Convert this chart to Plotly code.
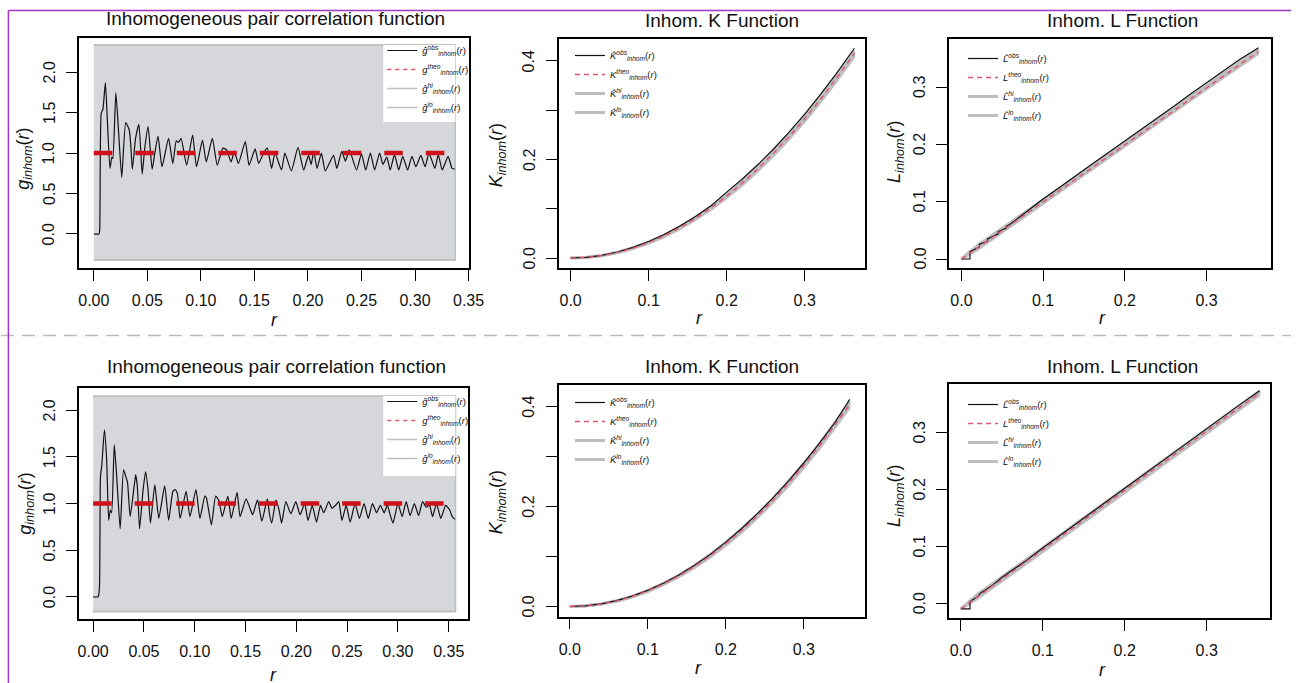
import plotly.graph_objects as go

W, H = 1306, 683

# ------------------------------------------------------------------ data
# --- top row : pair correlation function (observed, read from picture)
g1_r = [0, 0.0048, 0.0055, 0.0069, 0.0085, 0.0108, 0.0125, 0.0151, 0.0169, 0.0178, 0.0206, 0.0232,
        0.0261, 0.0298, 0.0330, 0.0345, 0.0360, 0.0390, 0.0421, 0.0452, 0.0475, 0.0507, 0.0545,
        0.0570, 0.0600, 0.0637, 0.0698, 0.0738, 0.0770, 0.0790, 0.0815, 0.0867, 0.0923, 0.0959,
        0.1015, 0.1050, 0.1107, 0.1153, 0.1205, 0.1240, 0.1282, 0.1313, 0.1350, 0.1415, 0.1450,
        0.1507, 0.1540, 0.1585, 0.1620, 0.1661, 0.1692, 0.1753, 0.1784, 0.1845, 0.1907, 0.1960,
        0.2005, 0.2030, 0.2055, 0.2085, 0.2125, 0.2162, 0.2239, 0.2270, 0.2316, 0.2350, 0.2386,
        0.2454, 0.2500, 0.2540, 0.2583, 0.2623, 0.2669, 0.2700, 0.2737, 0.2768, 0.2808, 0.2848,
        0.2885, 0.2931, 0.2971, 0.3008, 0.3054, 0.3094, 0.3130, 0.3186, 0.3217, 0.3254, 0.3309,
        0.3346, 0.3370]
g1_obs = [0, 0, 0.05, 1.49, 1.54, 1.87, 1.45, 0.81, 0.95, 0.93, 1.745, 1.25,
          0.70, 1.374, 1.29, 1.10, 0.80, 1.18, 1.354, 0.74, 1.05, 1.325, 0.80,
          1.00, 1.21, 0.83, 1.18, 0.87, 1.15, 1.13, 1.18, 0.85, 1.22, 0.83,
          1.16, 0.89, 1.18, 0.85, 1.06, 1.04, 0.89, 1.02, 0.87, 1.14, 0.85,
          1.05, 0.87, 1.00, 1.06, 0.81, 1.00, 0.79, 1.00, 0.78, 1.07, 0.79,
          0.97, 0.86, 1.02, 0.81, 1.00, 0.78, 0.97, 0.81, 1.02, 0.90, 1.04,
          0.79, 0.99, 0.79, 1.00, 0.79, 1.00, 0.86, 0.95, 0.79, 0.98, 0.79,
          0.96, 0.79, 0.96, 0.83, 0.97, 0.83, 1.00, 0.81, 0.98, 0.79, 0.96,
          0.81, 0.80]
g1_env_r = [0, 0.3376]
g1_theo = [1.0, 1.0]
g1_hi = [2.333, 2.333]
g1_lo = [-0.321, -0.321]

# --- bottom row : pair correlation function
g2_r = [0, 0.0049, 0.0062, 0.0072, 0.0085, 0.0111, 0.0133, 0.0153, 0.0169, 0.0182, 0.0208, 0.0234,
        0.0266, 0.0299, 0.0321, 0.0338, 0.0364, 0.0402, 0.0419, 0.0435, 0.0457, 0.0490, 0.0516,
        0.0540, 0.0564, 0.0607, 0.0646, 0.0704, 0.0743, 0.0785, 0.0808, 0.0830, 0.0856, 0.0915,
        0.0953, 0.1012, 0.1051, 0.1099, 0.1115, 0.1164, 0.1206, 0.1238, 0.1271, 0.1326, 0.1359,
        0.1417, 0.1446, 0.1505, 0.1537, 0.1570, 0.1618, 0.1660, 0.1715, 0.1735, 0.1758, 0.1800,
        0.1830, 0.1855, 0.1897, 0.1946, 0.1995, 0.2037, 0.2082, 0.2115, 0.2157, 0.2199, 0.2238,
        0.2270, 0.2319, 0.2350, 0.2385, 0.2417, 0.2449, 0.2491, 0.2530, 0.2578, 0.2621, 0.2667,
        0.2708, 0.2750, 0.2790, 0.2828, 0.2865, 0.2895, 0.2951, 0.3000, 0.3042, 0.3081, 0.3120,
        0.3162, 0.3204, 0.3243, 0.3280, 0.3311, 0.3341, 0.3380, 0.3422, 0.3470, 0.3510, 0.3534,
        0.3561]
g2_obs = [0, 0, 0.10, 1.29, 1.41, 1.79, 1.47, 0.82, 0.93, 0.90, 1.63, 1.25,
          0.73, 1.36, 1.29, 1.23, 0.86, 1.17, 1.31, 1.18, 0.73, 1.13, 1.34,
          1.15, 0.79, 1.20, 0.84, 1.19, 0.82, 1.13, 1.15, 1.10, 0.84, 1.13,
          0.86, 1.15, 0.84, 1.08, 1.06, 0.77, 1.08, 1.03, 0.86, 1.08, 0.84,
          1.12, 0.86, 1.05, 0.97, 0.88, 1.04, 0.81, 1.05, 0.89, 0.79, 1.04,
          0.93, 0.79, 1.02, 0.89, 1.02, 0.88, 1.00, 0.82, 0.98, 0.80, 0.98,
          0.90, 1.02, 0.95, 0.98, 1.02, 0.82, 0.98, 0.80, 1.00, 0.84, 1.00,
          0.84, 1.00, 0.90, 0.98, 0.90, 0.98, 0.79, 1.00, 0.86, 1.02, 0.87,
          1.00, 0.87, 1.02, 0.96, 0.98, 0.86, 1.00, 0.84, 0.98, 0.93, 0.86,
          0.83]
g2_env_r = [0, 0.3567]
g2_theo = [1.0, 1.0]
g2_hi = [2.15, 2.15]
g2_lo = [-0.157, -0.157]

# --- K functions
k_r = [0, 0.02, 0.04, 0.06, 0.08, 0.10, 0.12, 0.14, 0.16, 0.18, 0.20, 0.22, 0.24, 0.26,
       0.28, 0.30, 0.32, 0.34]
k1_r = k_r + [0.3637]
k1_theo = [0, 0.0013, 0.0050, 0.0113, 0.0201, 0.0314, 0.0452, 0.0616, 0.0804, 0.1018, 0.1257,
           0.1521, 0.1810, 0.2124, 0.2463, 0.2827, 0.3217, 0.3632, 0.4156]
k1_obs = [0, 0.0014, 0.0055, 0.0122, 0.0215, 0.0334, 0.0478, 0.0648, 0.0842, 0.1062, 0.1337,
          0.1605, 0.1897, 0.2213, 0.2555, 0.2923, 0.3317, 0.3732, 0.4258]
k1_hi = [0, 0.0014, 0.0053, 0.0118, 0.0208, 0.0324, 0.0465, 0.0632, 0.0823, 0.1040, 0.1283,
         0.1550, 0.1842, 0.2159, 0.2500, 0.2867, 0.3259, 0.3677, 0.4204]
k1_lo = [0, 0.0011, 0.0046, 0.0106, 0.0191, 0.0301, 0.0436, 0.0596, 0.0781, 0.0991, 0.1226,
         0.1487, 0.1773, 0.2084, 0.2420, 0.2782, 0.3169, 0.3581, 0.4100]

k2_r = k_r + [0.3590]
k2_theo = [0, 0.0013, 0.0050, 0.0113, 0.0201, 0.0314, 0.0452, 0.0616, 0.0804, 0.1018, 0.1257,
           0.1521, 0.1810, 0.2124, 0.2463, 0.2827, 0.3217, 0.3632, 0.4049]
k2_obs = [0, 0.0013, 0.0052, 0.0117, 0.0208, 0.0324, 0.0465, 0.0632, 0.0825, 0.1043, 0.1290,
          0.1558, 0.1850, 0.2166, 0.2508, 0.2875, 0.3267, 0.3686, 0.4150]
k2_hi = [0, 0.0014, 0.0053, 0.0118, 0.0208, 0.0324, 0.0465, 0.0632, 0.0823, 0.1040, 0.1283,
         0.1550, 0.1842, 0.2159, 0.2500, 0.2867, 0.3259, 0.3677, 0.4095]
k2_lo = [0, 0.0011, 0.0046, 0.0106, 0.0191, 0.0301, 0.0436, 0.0596, 0.0781, 0.0991, 0.1226,
         0.1487, 0.1773, 0.2084, 0.2420, 0.2782, 0.3169, 0.3581, 0.3995]

# --- L functions
l1_r = [0, 0.0105, 0.0105, 0.015, 0.020, 0.022, 0.022, 0.030, 0.032, 0.032, 0.040, 0.045, 0.045,
        0.050, 0.055, 0.055, 0.060, 0.070, 0.080, 0.090, 0.10, 0.12, 0.14, 0.16, 0.18, 0.20,
        0.22, 0.24, 0.26, 0.28, 0.30, 0.32, 0.34, 0.3635]
l1_obs = [0, 0, 0.0128, 0.016, 0.019, 0.021, 0.026, 0.029, 0.031, 0.035, 0.041, 0.044, 0.048,
          0.051, 0.054, 0.057, 0.061, 0.072, 0.083, 0.094, 0.105, 0.125, 0.146, 0.166, 0.186,
          0.206, 0.226, 0.247, 0.267, 0.288, 0.308, 0.328, 0.348, 0.369]
l1_env_r = [0, 0.02, 0.10, 0.20, 0.30, 0.3635]
l1_theo = [0, 0.020, 0.100, 0.200, 0.300, 0.3624]
l1_hi = [0, 0.024, 0.1035, 0.2035, 0.3035, 0.3664]
l1_lo = [0, 0.017, 0.0975, 0.1975, 0.2975, 0.3594]

l2_r = [0, 0.0112, 0.0112, 0.015, 0.020, 0.025, 0.030, 0.040, 0.050, 0.060, 0.080, 0.10, 0.12,
        0.14, 0.16, 0.18, 0.20, 0.22, 0.24, 0.26, 0.28, 0.30, 0.32, 0.34, 0.3646]
l2_obs = [-0.009, -0.009, 0.004, 0.008, 0.012, 0.020, 0.024, 0.034, 0.046, 0.056, 0.076, 0.098,
          0.119, 0.140, 0.161, 0.182, 0.202, 0.223, 0.244, 0.265, 0.286, 0.307, 0.328, 0.349,
          0.3736]
l2_env_r = [0, 0.02, 0.10, 0.20, 0.30, 0.3646]
l2_theo = [-0.009, 0.012, 0.095, 0.199, 0.303, 0.370]
l2_hi = [-0.009, 0.016, 0.0985, 0.2025, 0.3065, 0.3735]
l2_lo = [-0.009, 0.009, 0.0915, 0.1955, 0.2995, 0.3665]

# tick labels
g_xticks = [0, 0.05, 0.10, 0.15, 0.20, 0.25, 0.30, 0.35]
g_xtext = ["0.00", "0.05", "0.10", "0.15", "0.20", "0.25", "0.30", "0.35"]
g_yticks = [0, 0.5, 1.0, 1.5, 2.0]
g_ytext = ["0.0", "0.5", "1.0", "1.5", "2.0"]
kl_xticks = [0, 0.1, 0.2, 0.3]
kl_xtext = ["0.0", "0.1", "0.2", "0.3"]
k_yticks = [0, 0.1, 0.2, 0.3, 0.4]
k_ytext = ["0.0", "", "0.2", "", "0.4"]
l_yticks = [0, 0.1, 0.2, 0.3]
l_ytext = ["0.0", "0.1", "0.2", "0.3"]

# ------------------------------------------------------------------ style
BLACK = "#111111"
THEO = "#DF536B"
THEO_THICK = "#D0101A"
ENV = "#BEBEBE"
SHADE_G = "#D5D7DB"
SHADE_KL = "#C9C9C9"
FONT = "Liberation Sans, Arial, sans-serif"

fig = go.Figure()


def lab(sym, sup, hat=True):
    s = sym + ("\u0302" if hat else "")
    return f"<i>{s}</i><sup><i>{sup}</i></sup><sub><i>inhom</i></sub>(<i>r</i>)"


def add_panel(n, leg, sym, r, obs, env_r, theo, hi, lo, kind):
    xa = "x" if n == 1 else f"x{n}"
    ya = "y" if n == 1 else f"y{n}"
    shade = SHADE_G if kind == "g" else SHADE_KL
    # envelope shading built from hi / lo
    fig.add_trace(go.Scatter(x=list(env_r) + list(env_r)[::-1], y=list(hi) + list(lo)[::-1],
                             fill="toself", fillcolor=shade, mode="lines",
                             line=dict(color=ENV if kind == "g" else shade, width=1.5),
                             xaxis=xa, yaxis=ya, showlegend=False, hoverinfo="skip"))
    if kind == "g":
        fig.add_trace(go.Scatter(x=r, y=obs, mode="lines",
                                 line=dict(color=BLACK, width=1.2, shape="spline", smoothing=0.5),
                                 xaxis=xa, yaxis=ya, name=lab(sym, "obs"), legend=leg, legendrank=1))
        fig.add_trace(go.Scatter(x=env_r, y=theo, mode="lines",
                                 line=dict(color=THEO_THICK, width=4.5, dash="18.5px,23px"),
                                 xaxis=xa, yaxis=ya, showlegend=False))
        # legend proxy for theo (thin dashed as in legend)
        fig.add_trace(go.Scatter(x=[None], y=[None], mode="lines",
                                 line=dict(color=THEO, width=1.3, dash="4px,4px"),
                                 xaxis=xa, yaxis=ya, name=lab(sym, "theo", hat=False), legend=leg,
                                 legendrank=2))
        ew = 1.5
    else:
        ew = 3
    fig.add_trace(go.Scatter(x=env_r, y=hi, mode="lines", line=dict(color=ENV, width=ew),
                             xaxis=xa, yaxis=ya, name=lab(sym, "hi"), legend=leg, legendrank=3))
    fig.add_trace(go.Scatter(x=env_r, y=lo, mode="lines", line=dict(color=ENV, width=ew),
                             xaxis=xa, yaxis=ya, name=lab(sym, "lo"), legend=leg, legendrank=4))
    if kind != "g":
        fig.add_trace(go.Scatter(x=r, y=obs, mode="lines", line=dict(color=BLACK, width=1.2),
                                 xaxis=xa, yaxis=ya, name=lab(sym, "obs"), legend=leg, legendrank=1))
        fig.add_trace(go.Scatter(x=env_r, y=theo, mode="lines",
                                 line=dict(color=THEO, width=1.4, dash="5px,4px"),
                                 xaxis=xa, yaxis=ya, name=lab(sym, "theo", hat=False), legend=leg,
                                 legendrank=2))


add_panel(1, "legend", "g", g1_r, g1_obs, g1_env_r, g1_theo, g1_hi, g1_lo, "g")
add_panel(2, "legend2", "K", k1_r, k1_obs, k1_r, k1_theo, k1_hi, k1_lo, "K")
add_panel(3, "legend3", "L", l1_r, l1_obs, l1_env_r, l1_theo, l1_hi, l1_lo, "L")
add_panel(4, "legend4", "g", g2_r, g2_obs, g2_env_r, g2_theo, g2_hi, g2_lo, "g")
add_panel(5, "legend5", "K", k2_r, k2_obs, k2_r, k2_theo, k2_hi, k2_lo, "K")
add_panel(6, "legend6", "L", l2_r, l2_obs, l2_env_r, l2_theo, l2_hi, l2_lo, "L")

# ------------------------------------------------------------------ axes
# pixel boxes: (left, right, top, bottom)
boxes = {
    1: (79, 474, 38, 268),
    2: (565, 875, 39, 268),
    3: (960, 1285.5, 39, 268),
    4: (79, 473, 388, 619),
    5: (564.5, 875, 384.5, 616.5),
    6: (960, 1285, 383.5, 618),
}
xranges = {1: [-0.0138, 0.3506], 2: [-0.0148, 0.3776], 3: [-0.0149, 0.3785],
           4: [-0.0139, 0.3692], 5: [-0.0144, 0.3789], 6: [-0.0141, 0.3775]}
yranges = {1: [-0.42, 2.42], 2: [-0.0203, 0.4446], 3: [-0.0157, 0.3844],
           4: [-0.238, 2.238], 5: [-0.020, 0.4448], 6: [-0.025, 0.3865]}
ytitles = {1: "g", 2: "K", 3: "L", 4: "g", 5: "K", 6: "L"}
# axis-title positions in pixels: (y-title x, y-title y, x-title x, x-title y)
title_pos = {1: (24, 159, 277, 320), 2: (503, 155.5, 707, 318), 3: (905, 152, 1115, 318),
             4: (25, 504, 276, 675), 5: (503, 502.5, 706, 668), 6: (905, 496, 1115, 670)}

axis_common = dict(showline=True, mirror=True, linecolor="black", linewidth=1.8,
                   ticks="outside", ticklen=11, tickwidth=1.4, tickcolor="black",
                   showgrid=False, zeroline=False, fixedrange=True,
                   tickfont=dict(family=FONT, size=16, color=BLACK), tickmode="array")

layout_axes = {}
annotations = []
for n in range(1, 7):
    l, rr, t, b = boxes[n]
    xname = "xaxis" if n == 1 else f"xaxis{n}"
    yname = "yaxis" if n == 1 else f"yaxis{n}"
    yref = "y" if n == 1 else f"y{n}"
    kind = ytitles[n]
    if kind == "g":
        xt, xtt, yt, ytt = g_xticks, g_xtext, g_yticks, g_ytext
    elif kind == "K":
        xt, xtt, yt, ytt = kl_xticks, kl_xtext, k_yticks, k_ytext
    else:
        xt, xtt, yt, ytt = kl_xticks, kl_xtext, l_yticks, l_ytext
    layout_axes[xname] = dict(axis_common, domain=[l / W, rr / W], range=xranges[n],
                              anchor="y" if n == 1 else f"y{n}",
                              tickvals=xt, ticktext=xtt, ticklabelstandoff=6)
    layout_axes[yname] = dict(axis_common, domain=[1 - b / H, 1 - t / H], range=yranges[n],
                              anchor="x" if n == 1 else f"x{n}",
                              tickvals=yt, ticktext=ytt, showticklabels=False)
    # rotated y tick labels, placed on the axis scale
    for v, s in zip(yt, ytt):
        if s:
            annotations.append(dict(text=s, x=(l - 30) / W, y=v, xref="paper", yref=yref,
                                    textangle=-90, xanchor="center", yanchor="middle",
                                    showarrow=False,
                                    font=dict(family=FONT, size=16, color=BLACK)))
    yx, yy, xx, xy = title_pos[n]
    annotations.append(dict(text=f"<i>{kind}</i><sub><i>inhom</i></sub>(<i>r</i>)",
                            x=yx / W, y=1 - yy / H, xref="paper", yref="paper", textangle=-90,
                            xanchor="center", yanchor="middle", showarrow=False,
                            font=dict(family=FONT, size=18, color=BLACK)))
    annotations.append(dict(text="<i>r</i>", x=xx / W, y=1 - xy / H, xref="paper", yref="paper",
                            xanchor="center", yanchor="middle", showarrow=False,
                            font=dict(family=FONT, size=18, color=BLACK)))

# ------------------------------------------------------------------ legends
leg_common = dict(font=dict(family=FONT, size=9.5, color=BLACK), bgcolor="rgba(255,255,255,0)",
                  borderwidth=0, itemclick=False, itemdoubleclick=False,
                  tracegroupgap=0, xref="paper", yref="paper", xanchor="left", yanchor="top")
legends = {
    "legend": dict(leg_common, x=386 / W, y=1 - 36 / H),
    "legend2": dict(leg_common, x=576 / W, y=1 - 41 / H),
    "legend3": dict(leg_common, x=974 / W, y=1 - 44 / H),
    "legend4": dict(leg_common, x=386 / W, y=1 - 387 / H),
    "legend5": dict(leg_common, x=576 / W, y=1 - 388 / H),
    "legend6": dict(leg_common, x=974 / W, y=1 - 390 / H),
}

# ------------------------------------------------------------------ titles
titles = [("Inhomogeneous pair correlation function", 278, 19),
          ("Inhom. K Function", 730, 20),
          ("Inhom. L Function", 1135, 20),
          ("Inhomogeneous pair correlation function", 279, 366),
          ("Inhom. K Function", 730, 366),
          ("Inhom. L Function", 1135, 366)]
annotations += [dict(text=t, x=px / W, y=1 - py / H, xref="paper", yref="paper",
                     xanchor="center", yanchor="middle", showarrow=False,
                     font=dict(family=FONT, size=19, color=BLACK)) for t, px, py in titles]

shapes = [
    # white legend boxes of the pair-correlation panels
    dict(type="rect", xref="paper", yref="paper", x0=387 / W, x1=460 / W,
         y0=1 - 122 / H, y1=1 - 45 / H, fillcolor="white", line=dict(width=0), layer="above"),
    dict(type="rect", xref="paper", yref="paper", x0=387 / W, x1=460 / W,
         y0=1 - 476 / H, y1=1 - 396 / H, fillcolor="white", line=dict(width=0), layer="above"),
    dict(type="line", xref="paper", yref="paper", x0=0, x1=1, y0=1 - 335.5 / H, y1=1 - 335.5 / H,
         line=dict(color="#BBBBBB", width=1.5, dash="13px,8px")),
    dict(type="line", xref="paper", yref="paper", x0=7.5 / W, x1=1, y0=1 - 10.5 / H, y1=1 - 10.5 / H,
         line=dict(color="#A035C8", width=1.5)),
    dict(type="line", xref="paper", yref="paper", x0=7.5 / W, x1=7.5 / W, y0=0, y1=1 - 10.5 / H,
         line=dict(color="#A035C8", width=1.5)),
]

fig.update_layout(width=W, height=H, margin=dict(l=0, r=0, t=0, b=0),
                  paper_bgcolor="white", plot_bgcolor="white",
                  font=dict(family=FONT, color=BLACK),
                  annotations=annotations, shapes=shapes, **layout_axes, **legends)

fig.write_html("out.html")
